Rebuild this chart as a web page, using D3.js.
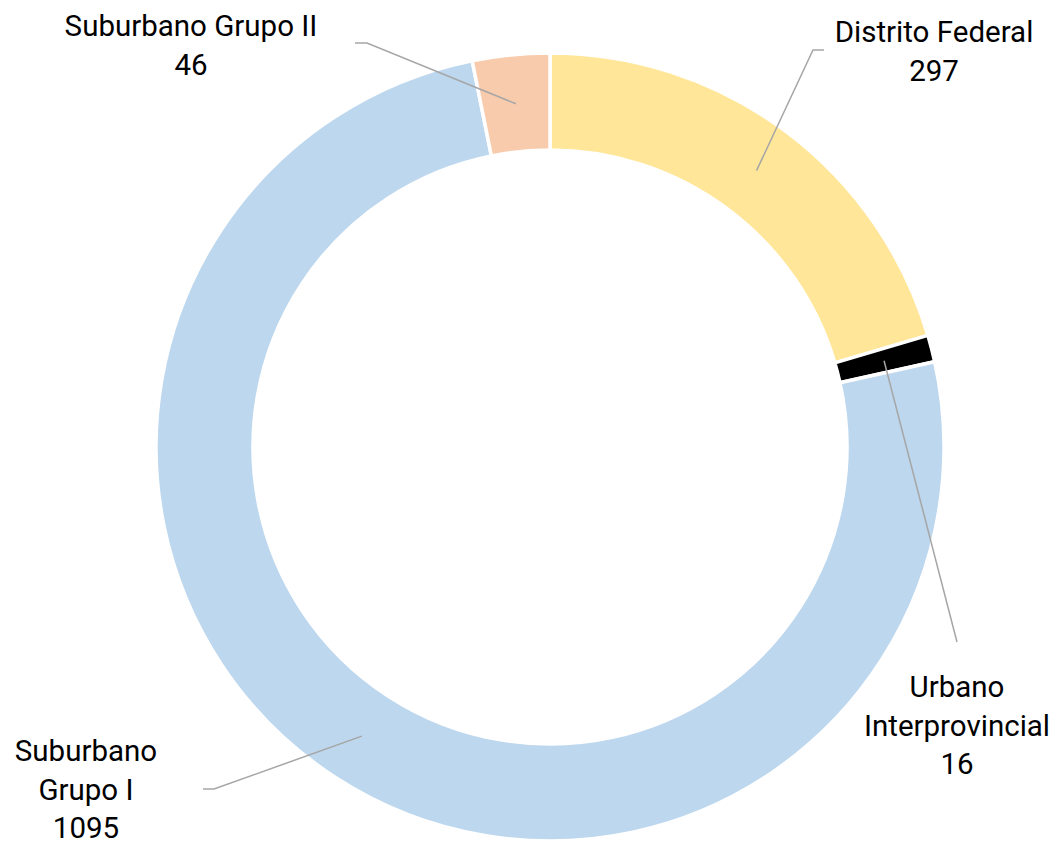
<!DOCTYPE html>
<html>
<head>
<meta charset="utf-8">
<script src="https://cdn.jsdelivr.net/npm/d3@7"></script>
<style>
  body { margin: 0; background: #fff; font-family: Roboto, "Noto Sans", sans-serif; }
  text { fill: #000; font-size: 29.5px; }
</style>
</head>
<body>
<svg id="chart" width="1058" height="842"></svg>
<script>
// data
var categories = ["Distrito Federal", "Urbano Interprovincial", "Suburbano Grupo I", "Suburbano Grupo II"];
var values = [297, 16, 1095, 46];

// label text lines (how the labels wrap in the picture)
var labelLines = [
  ["Distrito Federal", "297"],
  ["Urbano", "Interprovincial", "16"],
  ["Suburbano", "Grupo I", "1095"],
  ["Suburbano Grupo II", "46"]
];

// styles / layout
var colors = ["#FFE699", "#000000", "#BDD7EE", "#F8CBAD"];
var cx = 550, cy = 447, outerR = 394, innerR = 297;
// label anchor (center x, first baseline y) and leader elbow points
var labelPos = [[934, 42], [957, 697], [86, 761], [191, 36]];
var elbows = [
  [[813, 50], [824, 50]],
  [[957, 642]],
  [[214, 789], [203, 789]],
  [[367, 43], [355, 43]]
];

var svg = d3.select("#chart");
var g = svg.append("g").attr("transform", "translate(" + cx + "," + cy + ")");

var pie = d3.pie().sort(null).value(function(d) { return d; });
var arcs = pie(values);
var arc = d3.arc().innerRadius(innerR).outerRadius(outerR);
var midArc = d3.arc().innerRadius(345).outerRadius(345);

g.selectAll("path.slice")
  .data(arcs)
  .enter()
  .append("path")
  .attr("class", "slice")
  .attr("d", arc)
  .attr("fill", function(d, i) { return colors[i]; })
  .attr("stroke", "#fff")
  .attr("stroke-width", 3.5);

// leader lines
var line = d3.line();
arcs.forEach(function(d, i) {
  var c = midArc.centroid(d);
  var pts = [[c[0] + cx, c[1] + cy]].concat(elbows[i]);
  svg.append("path")
    .attr("d", line(pts))
    .attr("fill", "none")
    .attr("stroke", "#A6A6A6")
    .attr("stroke-width", 1.5);
});

// labels
labelLines.forEach(function(lines, i) {
  var t = svg.append("text")
    .attr("text-anchor", "middle")
    .attr("x", labelPos[i][0])
    .attr("y", labelPos[i][1]);
  lines.forEach(function(s, j) {
    t.append("tspan")
      .attr("x", labelPos[i][0])
      .attr("dy", j == 0 ? 0 : 38.5)
      .text(s);
  });
});
</script>
</body>
</html>
